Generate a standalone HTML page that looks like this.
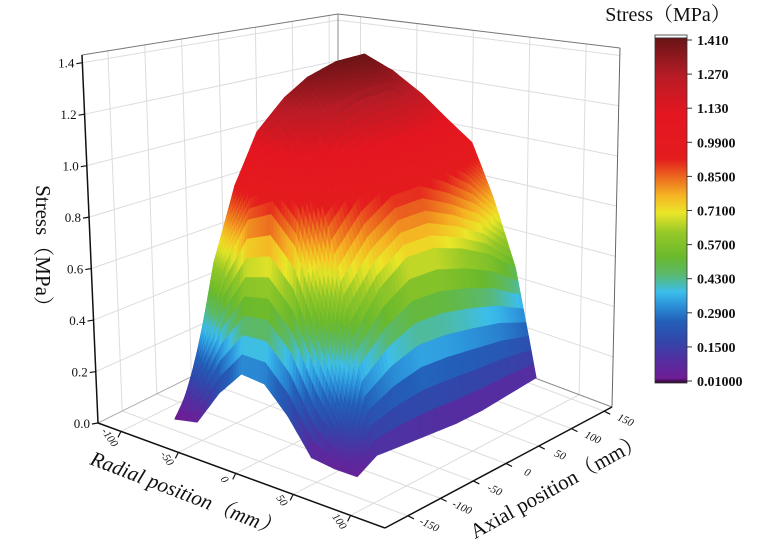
<!DOCTYPE html>
<html><head><meta charset="utf-8">
<style>
html,body{margin:0;padding:0;background:#fff;}
svg{display:block;}
text{font-family:"Liberation Serif","Noto Serif CJK SC",serif;fill:#111;}
</style></head>
<body>
<svg id="chart" width="759" height="557" viewBox="0 0 759 557" xmlns="http://www.w3.org/2000/svg">
<defs>
<linearGradient id="cbgrad" x1="0" y1="1" x2="0" y2="0"></linearGradient>
</defs>
<g id="walls"></g>
<g id="surface"></g>
<g id="axes"></g>
<g id="colorbar"></g>
</svg>
<script>
// ---- data ----
const radialPos = [-80, -60, -40, -20, 0, 20, 40, 60, 80];
const axialPos = [-140, -125, -110, -70, -30, 10, 50, 90, 130];
const stressRows = [
  [0.02, 0.04, 0.18, 0.28, 0.27, 0.18, 0.06, 0.05, 0.05],
  [0.08, 0.38, 0.66, 0.84, 0.88, 0.78, 0.52, 0.26, 0.07],
  [0.15, 0.62, 0.94, 1.16, 1.25, 1.14, 0.86, 0.48, 0.09],
  [0.16, 0.68, 1.02, 1.27, 1.36, 1.26, 0.98, 0.62, 0.08],
  [0.17, 0.70, 1.05, 1.30, 1.40, 1.30, 1.05, 0.70, 0.07],
  [0.17, 0.70, 1.06, 1.31, 1.41, 1.31, 1.06, 0.70, 0.06],
  [0.16, 0.66, 0.99, 1.23, 1.32, 1.23, 0.99, 0.66, 0.06],
  [0.15, 0.60, 0.90, 1.12, 1.20, 1.12, 0.90, 0.60, 0.07],
  [0.13, 0.52, 0.79, 0.98, 1.05, 0.98, 0.76, 0.50, 0.08]
];
const zTicks = [0.0, 0.2, 0.4, 0.6, 0.8, 1.0, 1.2, 1.4];
const radialTicks = [-100, -50, 0, 50, 100];
const axialTicks = [-150, -100, -50, 0, 50, 100, 150];
const cbarTicks = ["1.410","1.270","1.130","0.9900","0.8500","0.7100","0.5700","0.4300","0.2900","0.1500","0.01000"];

// ---- projection (trilinear over box corners) ----
const rmin=-120, rmax=130, amin=-185, amax=162, ztop=1.43;
const B00=[98,423], B10=[385,528], B11=[612,407], B01=[338,304];
const T00=[82,55], T10=[380,92], T11=[620,48], T01=[338,14];
function bil(c00,c10,c11,c01,u,v){
  return [c00[0]*(1-u)*(1-v)+c10[0]*u*(1-v)+c11[0]*u*v+c01[0]*(1-u)*v,
          c00[1]*(1-u)*(1-v)+c10[1]*u*(1-v)+c11[1]*u*v+c01[1]*(1-u)*v];
}
function P(r,a,z){
  const u=(r-rmin)/(rmax-rmin), v=(a-amin)/(amax-amin), w=z/ztop;
  const b=bil(B00,B10,B11,B01,u,v), t=bil(T00,T10,T11,T01,u,v);
  return [b[0]+(t[0]-b[0])*w, b[1]+(t[1]-b[1])*w];
}
const NS="http://www.w3.org/2000/svg";
function mk(tag,attrs,parent){const e=document.createElementNS(NS,tag);for(const k in attrs)e.setAttribute(k,attrs[k]);parent.appendChild(e);return e;}
function pt(p){return p[0].toFixed(1)+","+p[1].toFixed(1);}

// colormap
const cmap=[[0.0,[40,5,40]],[0.03,[110,30,150]],[0.1,[85,45,160]],[0.18,[50,70,170]],[0.26,[35,95,185]],[0.33,[45,150,220]],[0.38,[60,190,235]],[0.45,[90,185,110]],[0.52,[105,185,45]],[0.62,[150,200,40]],[0.7,[235,230,40]],[0.77,[245,180,35]],[0.85,[235,100,30]],[0.92,[228,28,30]],[1.1,[228,22,32]],[1.25,[185,28,38]],[1.41,[105,20,22]]];
function col(z){
  if(z<=cmap[0][0])return "rgb("+cmap[0][1]+")";
  for(let i=1;i<cmap.length;i++){if(z<=cmap[i][0]){const t=(z-cmap[i-1][0])/(cmap[i][0]-cmap[i-1][0]);const a=cmap[i-1][1],b=cmap[i][1];return "rgb("+[0,1,2].map(k=>Math.round(a[k]+(b[k]-a[k])*t)).join(",")+")";}}
  return "rgb("+cmap[cmap.length-1][1]+")";
}

// ---- walls & grid ----
const walls=document.getElementById('walls');
function line(p,q,stroke,w,parent,name){const l=mk('line',{x1:p[0],y1:p[1],x2:q[0],y2:q[1],stroke:stroke,'stroke-width':w},parent);return l;}
const gc="#dcdcdc";
zTicks.forEach(z=>{ if(z>0){ line(P(rmin,amin,z),P(rmin,amax,z),gc,1,walls,'left-wall-gridline'); line(P(rmin,amax,z),P(rmax,amax,z),gc,1,walls,'right-wall-gridline'); }});
axialTicks.forEach(a=>{ line(P(rmin,a,0),P(rmin,a,ztop),gc,1,walls,'left-wall-gridline'); line(P(rmin,a,0),P(rmax,a,0),gc,1,walls,'floor-gridline'); });
radialTicks.forEach(r=>{ line(P(r,amax,0),P(r,amax,ztop),gc,1,walls,'right-wall-gridline'); line(P(r,amin,0),P(r,amax,0),gc,1,walls,'floor-gridline'); });
line(P(rmin,amin,ztop),P(rmin,amax,ztop),"#777",1,walls,'box-edge');
line(P(rmin,amax,ztop),P(rmax,amax,ztop),"#777",1,walls,'box-edge');
line(P(rmin,amax,0),P(rmin,amax,ztop),"#888",1,walls,'box-edge');
line(P(rmax,amax,0),P(rmax,amax,ztop),"#666",1,walls,'box-edge');
line(P(rmin,amin,0),P(rmin,amax,0),"#aaa",1,walls,'box-edge');
line(P(rmin,amax,0),P(rmax,amax,0),"#888",1,walls,'box-edge');

// ---- surface ----
const surf=document.getElementById('surface');
const N=8, polys=[];
for(let j=0;j<axialPos.length-1;j++){for(let i=0;i<radialPos.length-1;i++){
  const z00=stressRows[j][i],z10=stressRows[j][i+1],z01=stressRows[j+1][i],z11=stressRows[j+1][i+1];
  for(let sj=0;sj<N;sj++){for(let si=0;si<N;si++){
    const c=[[si,sj],[si+1,sj],[si+1,sj+1],[si,sj+1]].map(([s,t])=>{
      const u=s/N,v=t/N;
      const r=radialPos[i]+(radialPos[i+1]-radialPos[i])*u;
      const a=axialPos[j]+(axialPos[j+1]-axialPos[j])*v;
      const z=z00*(1-u)*(1-v)+z10*u*(1-v)+z11*u*v+z01*(1-u)*v;
      return {r,a,z};});
    const zm=(c[0].z+c[1].z+c[2].z+c[3].z)/4;
    const rm=(c[0].r+c[2].r)/2, am=(c[0].a+c[2].a)/2;
    polys.push({c,zm,depth:(rm-rmin)/(rmax-rmin)-(am-amin)/(amax-amin)});
  }}
}}
polys.sort((p,q)=>p.depth-q.depth);
polys.forEach(p=>{
  const color=col(p.zm);
  const poly=mk('polygon',{points:p.c.map(k=>pt(P(k.r,k.a,k.z))).join(' '),fill:color,stroke:color,'stroke-width':0.6,'stroke-linejoin':'round'},surf);
  
  
});

// ---- axes ----
const ax=document.getElementById('axes');
line(P(rmin,amin,0),P(rmin,amin,ztop),"#111",1.5,ax,'z-axis-line');
line(P(rmin,amin,0),P(rmax,amin,0),"#111",1.5,ax,'radial-axis-line');
line(P(rmax,amin,0),P(rmax,amax,0),"#111",1.5,ax,'axial-axis-line');
zTicks.forEach(z=>{
  const p=P(rmin,amin,z);
  line(p,[p[0]-6,p[1]+1],"#111",1.2,ax,'z-tick');
  const t=mk('text',{x:p[0]-8,y:p[1]+5,'text-anchor':'end','font-size':13},ax);t.textContent=z.toFixed(1);
  
});
radialTicks.forEach(r=>{
  const p=P(r,amin,0);
  line(p,[p[0]-3,p[1]+6],"#111",1.2,ax,'radial-tick');
  const t=mk('text',{x:0,y:0,'font-size':11,'font-style':'italic','text-anchor':'middle',transform:`translate(${p[0]-14},${p[1]+8}) rotate(55)`},ax);t.textContent=r;
  
});
axialTicks.forEach(a=>{
  const p=P(rmax,a,0);
  line(p,[p[0]+6,p[1]+3],"#111",1.2,ax,'axial-tick');
  const t=mk('text',{x:0,y:0,'font-size':11,'font-style':'italic','text-anchor':'middle',transform:`translate(${p[0]+20},${p[1]+12}) rotate(25)`},ax);t.textContent=a;
  
});
let tt=mk('text',{x:0,y:0,'font-size':21,'text-anchor':'middle',transform:'translate(36,251) rotate(90)'},ax);tt.textContent="Stress（MPa）";

tt=mk('text',{x:0,y:0,'font-size':21,'font-style':'italic','text-anchor':'middle',transform:'translate(183,500) rotate(21)'},ax);tt.textContent="Radial position（mm）";

tt=mk('text',{x:0,y:0,'font-size':21,'text-anchor':'middle',transform:'translate(560,492) rotate(-29)'},ax);tt.textContent="Axial position（mm）";


// ---- colorbar ----
const cb=document.getElementById('colorbar');
const grad=document.getElementById('cbgrad');
mk('stop',{offset:'0','stop-color':'rgb(40,5,40)'},grad);
cmap.forEach(s=>{ if(s[0]>=0.03){ mk('stop',{offset:((s[0]-0.01)/1.4).toFixed(3),'stop-color':col(s[0])},grad);} });
const cbx=655,cby=38,cbw=32,cbh=345;
let r=mk('rect',{x:cbx,y:cby-3,width:cbw,height:3,fill:'#fff',stroke:'#333','stroke-width':0.8},cb);

r=mk('rect',{x:cbx,y:cby,width:cbw,height:cbh,fill:'url(#cbgrad)',stroke:'#333','stroke-width':0.8},cb);

cbarTicks.forEach((lab,k)=>{
  const y=cby+2+k*(cbh-4)/(cbarTicks.length-1);
  line([cbx+cbw,y],[cbx+cbw+5,y],"#333",1,cb,'colorbar-tick');
  const t=mk('text',{x:697,y:y+5,'font-size':14,'font-weight':'bold'},cb);t.textContent=lab;
  
});
tt=mk('text',{x:668,y:21,'font-size':20,'text-anchor':'middle'},cb);tt.textContent="Stress（MPa）";

</script>
</body></html>
